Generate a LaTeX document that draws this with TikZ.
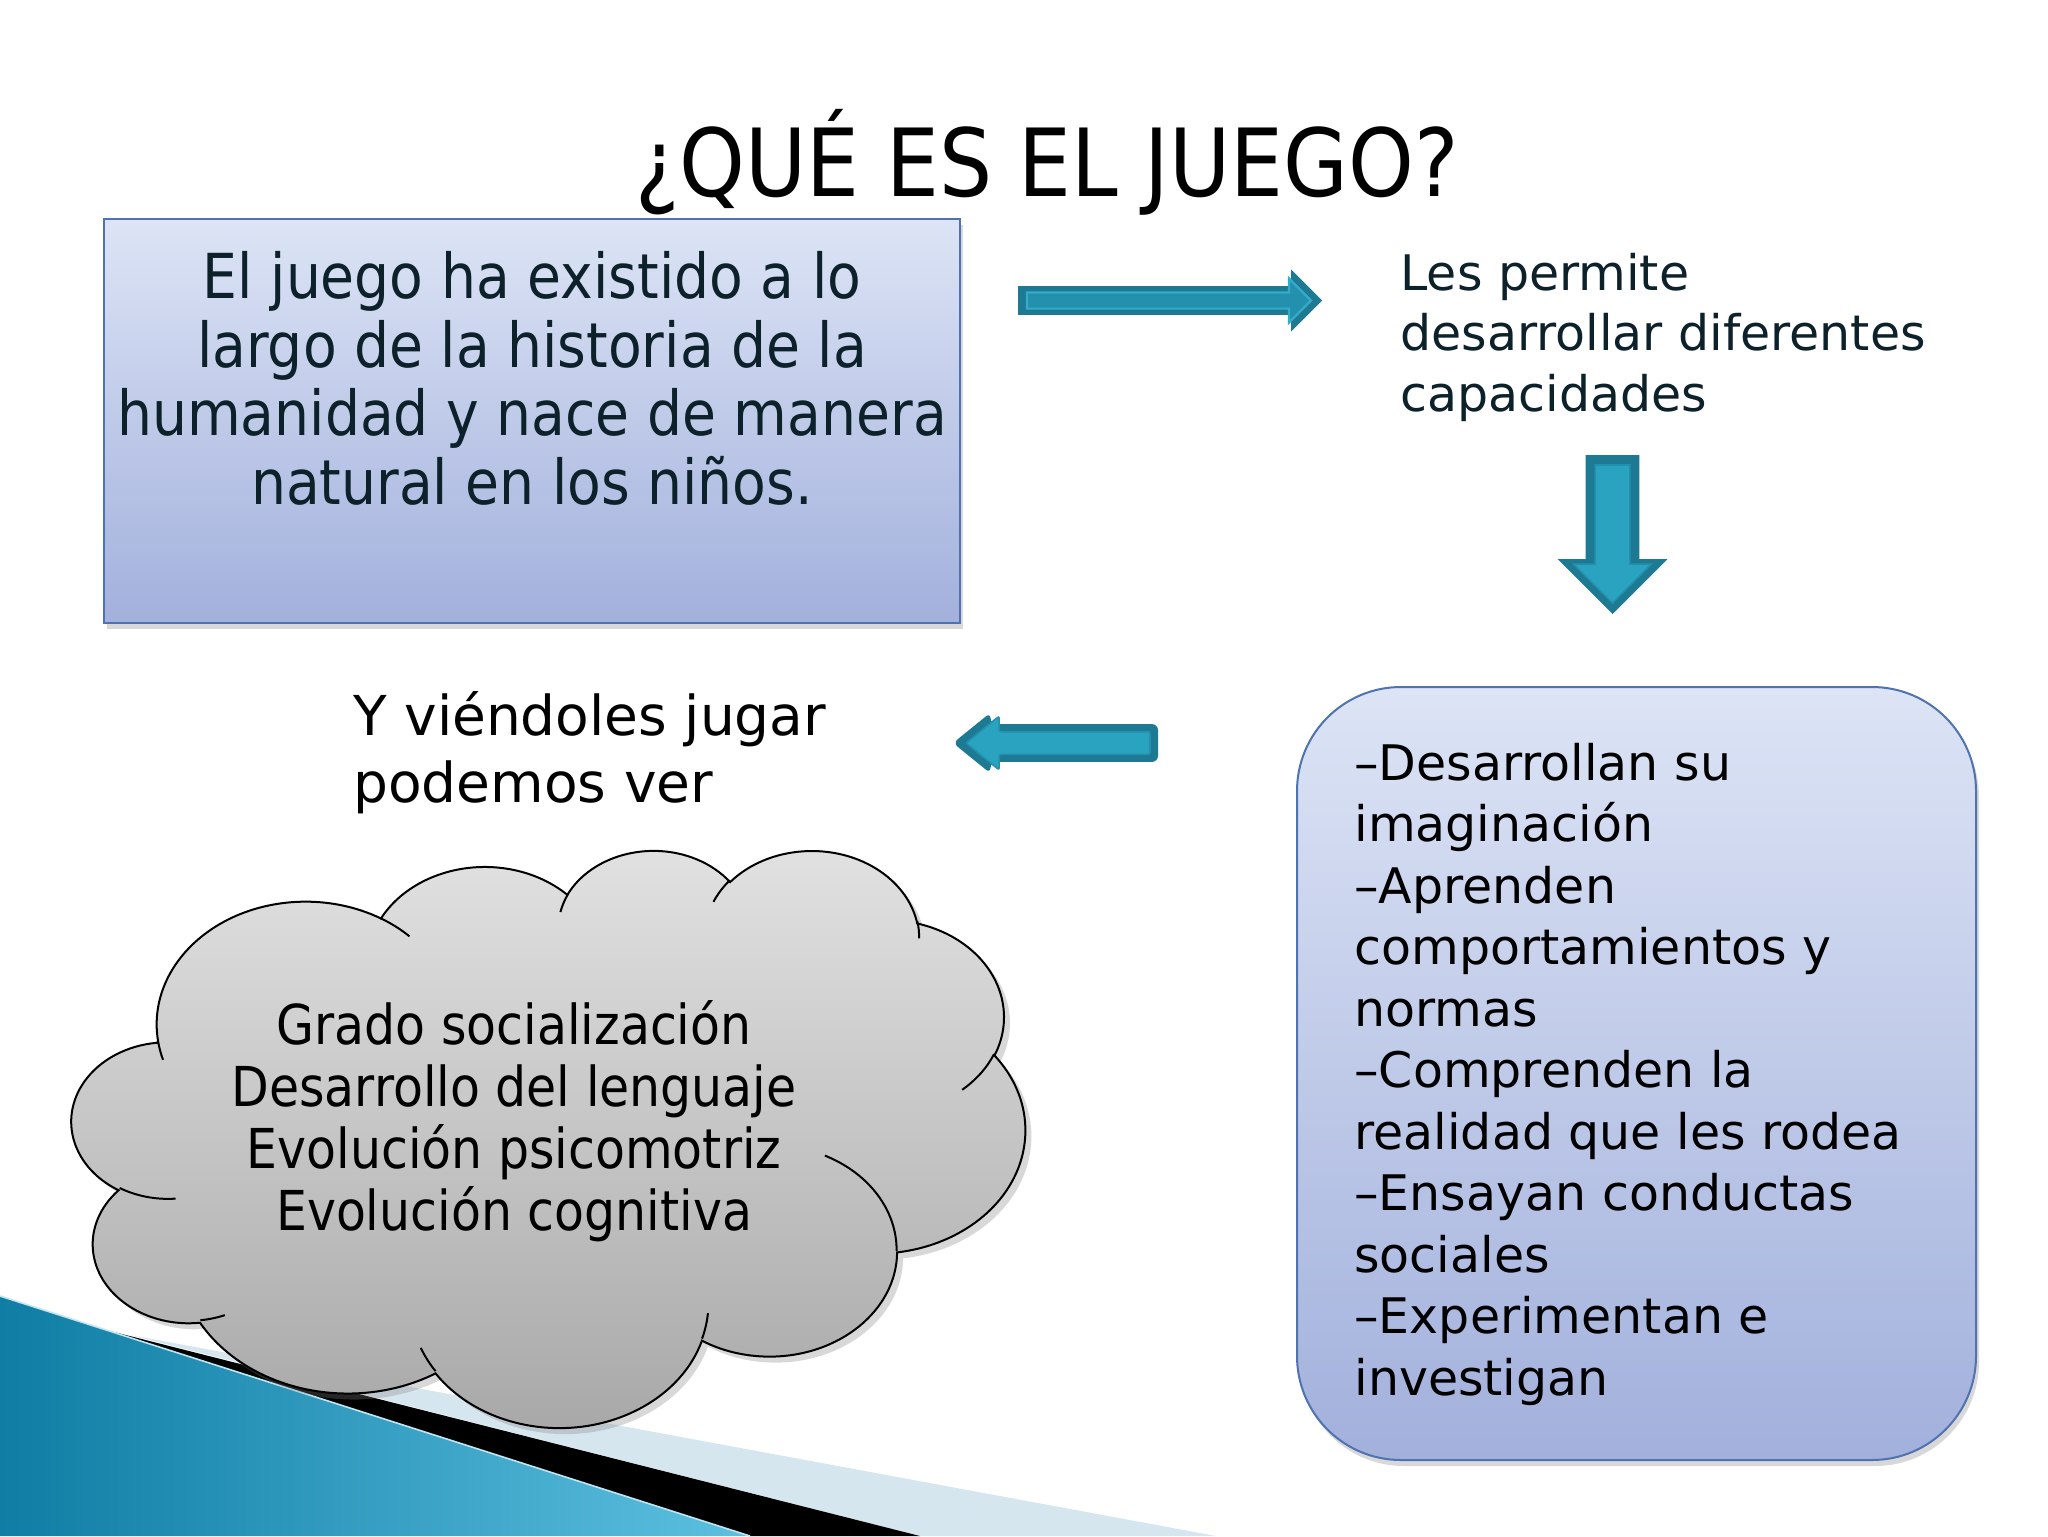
\documentclass[tikz,border=0pt]{standalone}
\usepackage{fontspec}
\setmainfont{DejaVu Sans}
\newfontfamily\condfont[FakeStretch=0.89]{DejaVu Sans}
\usetikzlibrary{shapes.arrows,shadows}

\definecolor{boxtop}{HTML}{DCE4F5}
\definecolor{boxbot}{HTML}{A2B0DC}
\definecolor{boxline}{HTML}{4F72B0}
\definecolor{arrdark}{HTML}{1E7A93}
\definecolor{arrlight}{HTML}{2AA3C1}
\definecolor{arrmid}{HTML}{2390AE}
\definecolor{arrhi}{HTML}{34ABC8}
\definecolor{txtdark}{HTML}{0C2129}
\definecolor{cloudtop}{HTML}{E2E2E2}
\definecolor{cloudbot}{HTML}{A7A7A7}
\definecolor{bluedark}{HTML}{0F7DA4}
\definecolor{bluelight}{HTML}{5DC0E0}
\definecolor{palestripe}{HTML}{D6E6EF}

\tikzset{
  boxstyle/.style={draw=boxline, line width=1pt, top color=boxtop, bottom color=boxbot,
    drop shadow={opacity=0.3, shadow xshift=1.5pt, shadow yshift=-3pt}, inner sep=0pt, outer sep=0pt},
  arrowbase/.style={single arrow, outer sep=0pt, anchor=tip},
  oarc/.style n args={4}{/utils/exec={%
     \pgfmathsetmacro\oTs{atan2((#1)*sin(#3),(#2)*cos(#3))}%
     \pgfmathsetmacro\oTe{atan2((#1)*sin((#3)+(#4)),(#2)*cos((#3)+(#4)))}%
     \pgfmathsetmacro\oDt{\oTe-\oTs}%
     \pgfmathsetmacro\oDt{\oDt<0 ? \oDt+360 : \oDt}%
     \pgfmathsetmacro\oRx{(#1)/100}%
     \pgfmathsetmacro\oRy{(#2)/100}},
    insert path={arc[start angle=\oTs, delta angle=\oDt, x radius=\oRx, y radius=\oRy]}},
  cloudstyle/.style={draw=black, line width=1pt, top color=cloudtop, bottom color=cloudbot,
    drop shadow={opacity=0.3, shadow xshift=3pt, shadow yshift=-3pt}},
  darktext/.style={text=txtdark, inner sep=0pt}
}

\begin{document}
\begin{tikzpicture}[x=0.5pt,y=-0.5pt]
\useasboundingbox (0,0) rectangle (2048,1536);
\fill[white] (0,0) rectangle (2048,1536);

% bottom-left decoration
\fill[palestripe] (130,1335) -- (1216,1536) -- (920,1536) -- cycle;
\fill[black] (110,1331) -- (920,1536) -- (750,1536) -- cycle;
\shade[left color=bluedark, right color=bluelight] (0,1296) -- (750,1536) -- (0,1536) -- cycle;
\draw[bluelight!40!white, line width=0.8pt] (0,1296) -- (750,1536);

% title
\node[font=\condfont\fontsize{47}{56}\selectfont, anchor=base, inner sep=0pt] (title) at (1047,196) {¿QUÉ ES EL JUEGO?};

% top-left box (multi-line base anchor = last line baseline)
\node[boxstyle, minimum width=428pt, minimum height=202pt] (box1) at (532,421) {};
\node[darktext, font=\condfont\fontsize{31}{34.25}\selectfont, align=center, anchor=base] (box1txt) at (532,504)
  {El juego ha existido a lo\\largo de la historia de la\\humanidad y nace de manera\\natural en los niños.};

% right arrow
\node[arrowbase, fill=arrdark, minimum height=152pt, minimum width=30.5pt,
  single arrow head extend=8.25pt, inner sep=7pt] (arrR) at (1322,300.5) {};
\node[arrowbase, fill=arrmid, draw=arrhi, line width=1.1pt, minimum height=142pt, minimum width=21pt,
  single arrow head extend=7pt, inner sep=3.5pt] (arrRin) at (1311,300.5) {};

% capacities text
\node[darktext, font=\fontsize{24.5}{30.25}\selectfont, align=left, anchor=base west] (capac) at (1400,411)
  {Les permite\\desarrollar diferentes\\capacidades};

% down arrow
\node[arrowbase, shape border rotate=270, fill=arrdark,
  minimum height=79.5pt, minimum width=54.5pt, single arrow head extend=14pt, inner sep=13.25pt] (arrD) at (1612.5,614) {};
\node[arrowbase, shape border rotate=270, fill=arrlight, draw=arrmid, line width=0.8pt,
  minimum height=69pt, minimum width=38pt, single arrow head extend=10.75pt, inner sep=8.25pt] (arrDin) at (1612.5,603) {};

% right rounded box
\node[boxstyle, rounded corners=52pt, minimum width=339.5pt, minimum height=386.5pt] (box2) at (1636.5,1073.5) {};
\node[font=\fontsize{24.5}{30.75}\selectfont, align=left, anchor=base west, inner sep=0pt] (box2txt) at (1354,1395)
  {–Desarrollan su\\imaginación\\–Aprenden\\comportamientos y\\normas\\–Comprenden la\\realidad que les rodea\\–Ensayan conductas\\sociales\\–Experimentan e\\investigan};

% left arrow
\node[arrowbase, shape border rotate=180, fill=arrdark, rounded corners=3pt,
  minimum height=102.5pt, minimum width=30pt, single arrow head extend=5.75pt, single arrow tip angle=78,
  inner sep=9.25pt] (arrL) at (953,743) {};
\node[arrowbase, shape border rotate=180, fill=arrlight, draw=arrmid, line width=0.8pt, rounded corners=1pt,
  minimum height=92pt, minimum width=26pt, single arrow head extend=7.75pt, single arrow tip angle=78,
  inner sep=5.25pt] (arrLin) at (966,743) {};

% Y viendoles jugar
\node[font=\fontsize{27.5}{33.5}\selectfont, align=left, anchor=base west, inner sep=0pt] (ver) at (353,802)
  {Y viéndoles jugar\\podemos ver};

% cloud
\begin{scope}[shift={(72,849)}, x=1.1030pt, y=-0.6678pt]
\draw[cloudstyle] (39.00,143.70)
  [oarc={6753}{9190}{-190.48748}{123.78053}]
  [oarc={5333}{7267}{-144.10238}{89.94523}]
  [oarc={4365}{5945}{-145.80792}{99.72302}]
  [oarc={4857}{6595}{-130.98607}{117.24173}]
  [oarc={5333}{7273}{-78.70888}{109.02692}]
  [oarc={6775}{9220}{-46.26725}{130.26900}]
  [oarc={5785}{7867}{0.62502}{114.03333}]
  [oarc={6752}{9215}{22.45160}{115.17255}]
  [oarc={7720}{10543}{66.24263}{75.71102}]
  [oarc={4360}{5918}{-274.94208}{146.73557}]
  [oarc={4345}{5945}{-246.82850}{152.51885}]
  -- cycle;
\draw[line width=1pt]
  (46.93,261.77) [oarc={4345}{5945}{86.74200}{26.42950}]
  (69.28,348.99) [oarc={4360}{5918}{73.61047}{11.44747}]
  (164.78,390.90) [oarc={6752}{9215}{137.62415}{14.08110}]
  (288.27,347.51) [oarc={6752}{9215}{6.45327}{15.99835}]
  (341.29,229.54) [oarc={5785}{7867}{-70.29235}{70.91737}]
  (417.98,153.54) [oarc={5333}{7273}{30.31803}{27.75150}]
  (383.24,54.26) [oarc={4857}{6595}{-13.74433}{14.85890}]
  (290.78,39.52) [oarc={4857}{6595}{-149.18145}{18.19537}]
  (221.41,47.20) [oarc={4365}{5945}{-163.49427}{17.68635}]
  (140.00,51.92) [oarc={6753}{9190}{-66.70695}{12.31935}]
  (41.27,157.89) [oarc={6753}{9190}{157.65435}{11.85817}];
\end{scope}
\node[font=\condfont\fontsize{27.5}{30.85}\selectfont, align=center, anchor=base, inner sep=0pt] (cloudtxt) at (514,1230)
  {Grado socialización\\Desarrollo del lenguaje\\Evolución psicomotriz\\Evolución cognitiva};
\end{tikzpicture}
\end{document}
